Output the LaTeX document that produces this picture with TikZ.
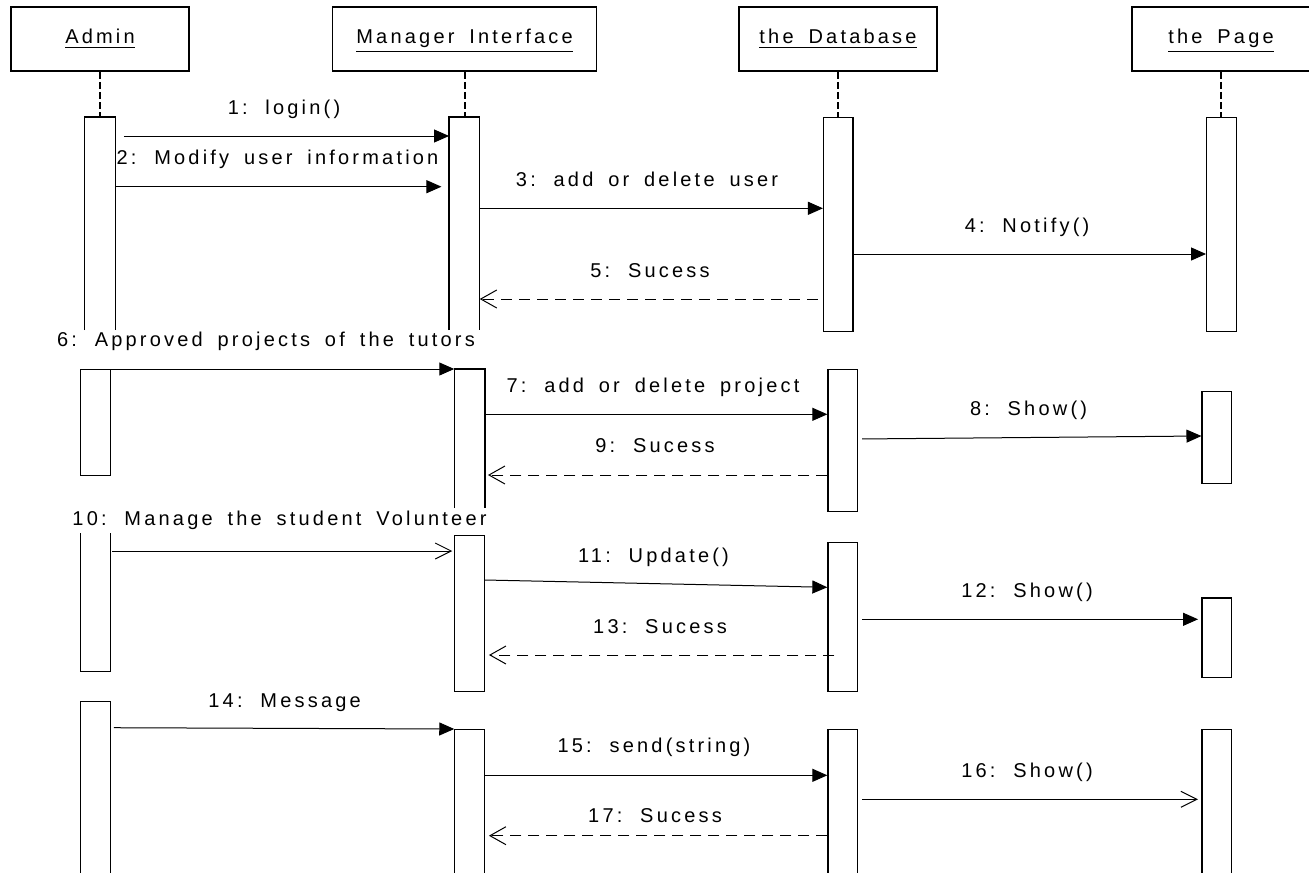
\documentclass[tikz,border=0pt]{standalone}
\usepackage{fontspec}
\setmainfont{Liberation Sans}[LetterSpace=16, WordSpace=1.7]
\usetikzlibrary{arrows.meta}

\begin{document}
\begin{tikzpicture}[x=0.5pt, y=-0.5pt,
    obj/.style={draw, line width=0.6pt, minimum height=32pt, inner sep=0pt,
                text height=8pt, text depth=3pt},
    bar/.style={draw, fill=white, line width=0.6pt, minimum width=14.75pt,
                inner sep=0pt, anchor=north},
    openbar/.style={bar, draw=none},
    side/.style={line width=0.6pt},
    life/.style={line width=1pt, dash pattern=on 3.5pt off 1.6pt},
    lbl/.style={inner sep=0pt, text height=7.2pt, text depth=2pt},
    msg/.style={-{Triangle[length=7.5pt, width=6.5pt]}, line width=0.5pt},
    asyn/.style={-{Straight Barb[length=8pt, width=8pt]}, line width=0.5pt},
    ret/.style={-{Straight Barb[length=8pt, width=9pt]}, line width=0.5pt,
                dash pattern=on 5.5pt off 3.5pt}
]
\useasboundingbox (0,0) rectangle (1309,872);
\clip (0,0) rectangle (1309,872);

\node[obj, minimum width=89pt]  (admin)   at (100,39)   {\underline{Admin}};
\node[obj, minimum width=132pt] (manager) at (464.6,39) {\underline{Manager Interface}};
\node[obj, minimum width=99pt]  (db)      at (838,39)   {\underline{the Database}};
\node[obj, minimum width=89pt]  (page)    at (1221,39)  {\underline{the Page}};

% activation bars
\node[openbar, minimum height=106pt]  (a1) at (100.2,117)  {};
\node[bar,     minimum height=53pt]   (a2) at (95.5,369)   {};
\node[openbar, minimum height=68.5pt] (a3) at (95.5,533)   {};
\node[bar,     minimum height=90pt]   (a4) at (95.5,701)   {};
\node[openbar, minimum height=106pt]  (m1) at (464.4,117)  {};
\node[openbar, minimum height=69pt]   (m2) at (469.6,369)  {};
\node[bar,     minimum height=78pt]   (m3) at (469.6,535)  {};
\node[bar,     minimum height=76pt]   (m4) at (469.6,729)  {};
\node[bar,     minimum height=107pt]  (d1) at (838.3,117)  {};
\node[bar,     minimum height=71pt]   (d2) at (842.7,369)  {};
\node[bar,     minimum height=74.6pt] (d3) at (842.7,541.7) {};
\node[bar,     minimum height=76pt]   (d4) at (842.7,729)  {};
\node[bar,     minimum height=107pt]  (p1) at (1221.4,117) {};
\node[bar,     minimum height=46pt]   (p2) at (1216.8,390.5) {};
\node[bar,     minimum height=39.6pt] (p3) at (1216.8,597.3) {};
\node[bar,     minimum height=76pt]   (p4) at (1216.8,729) {};

\foreach \b in {a1,m1,m2}
  \draw[side] (\b.south west) |- (\b.north east) -- (\b.south east);
\draw[side] (a3.north west) |- (a3.south east) -- (a3.north east);

\foreach \o/\b in {admin/a1, manager/m1, db/d1, page/p1}
  \draw[life] (\o.south) -- (\o.south |- \b.north);

% message labels
\node[lbl] (l1)  at (284,109)    {1: login()};
\node[lbl] (l2)  at (277.5,159)  {2: Modify user information};
\node[lbl] (l3)  at (647,181)    {3: add or delete user};
\node[lbl] (l4)  at (1027,227)   {4: Notify()};
\node[lbl] (l5)  at (650,272)    {5: Sucess};
\node[lbl] (l6)  at (266,341)    {6: Approved projects of the tutors};
\node[lbl] (l7)  at (653,387)    {7: add or delete project};
\node[lbl] (l8)  at (1028.5,410) {8: Show()};
\node[lbl] (l9)  at (655,447)    {9: Sucess};
\node[lbl] (l10) at (279.5,520)  {10: Manage the student Volunteer};
\node[lbl] (l11) at (653.5,557)  {11: Update()};
\node[lbl] (l12) at (1027,592)   {12: Show()};
\node[lbl] (l13) at (660,628)    {13: Sucess};
\node[lbl] (l14) at (284.6,702)  {14: Message};
\node[lbl] (l15) at (654,747)    {15: send(string)};
\node[lbl] (l16) at (1027,772)   {16: Show()};
\node[lbl] (l17) at (655,817)    {17: Sucess};

% messages
\draw[msg, shorten <=4.2pt] (a1.east |- 0,136) -- (m1.west |- 0,136);
\draw[msg, shorten >=3.8pt] (a1.east |- 0,186.7) -- (m1.west |- 0,186.7);
\draw[msg] (m1.east |- 0,208.3) -- (d1.west |- 0,208.3);
\draw[msg] (d1.east |- 0,254) -- (p1.west |- 0,254);
\draw[ret, shorten <=2.5pt] (d1.west |- 0,299) -- (m1.east |- 0,299);
\draw[msg] (a2.north west) -- (m2.north west);
\draw[msg] (m2.east |- 0,414.3) -- (d2.west |- 0,414.3);
\draw[msg, shorten <=2pt] (d2.east |- 0,439) -- (p2.west |- 0,436);
\draw[ret, shorten >=1.5pt] (d2.west |- 0,475) -- (m2.east |- 0,475);
\draw[asyn, shorten <=0.7pt, shorten >=1pt] (a3.east |- 0,551) -- (m3.west |- 0,551);
\draw[msg] (m3.east |- 0,580) -- (d3.west |- 0,587.3);
\draw[msg, shorten <=2pt, shorten >=1.7pt] (d3.east |- 0,619.3) -- (p3.west |- 0,619.3);
\draw[ret, shorten <=-3.5pt, shorten >=2pt] (d3.west |- 0,655) -- (m3.east |- 0,655);
\draw[msg, shorten <=1.5pt] (a4.east |- 0,727.7) -- (m4.north west);
\draw[msg] (m4.east |- 0,775.3) -- (d4.west |- 0,775.3);
\draw[asyn, shorten <=2pt, shorten >=1.7pt] (d4.east |- 0,799.3) -- (p4.west |- 0,799.3);
\draw[ret, shorten >=2pt] (d4.west |- 0,835.7) -- (m4.east |- 0,835.7);
\end{tikzpicture}
\end{document}
